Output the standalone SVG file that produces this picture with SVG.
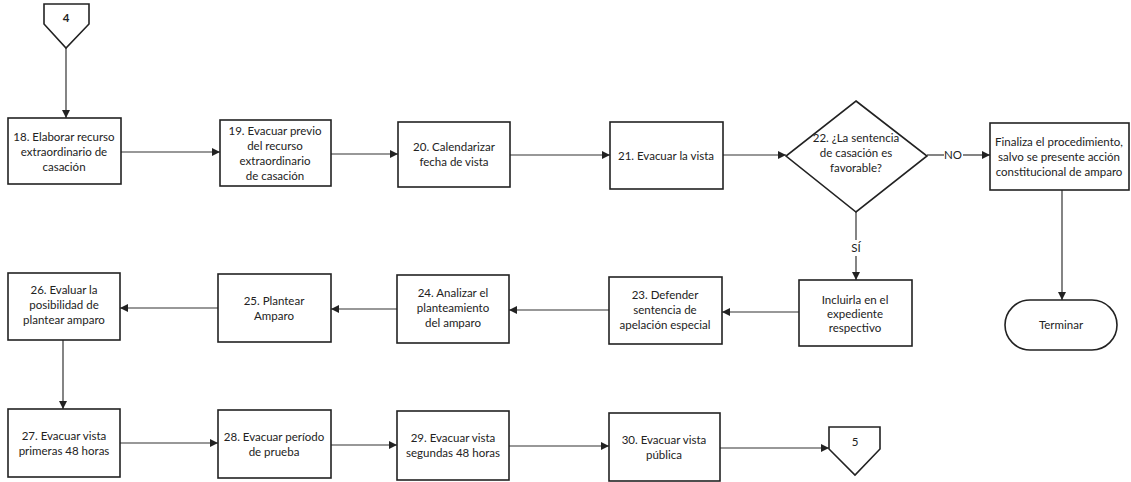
<svg xmlns="http://www.w3.org/2000/svg" width="1131" height="482" viewBox="0 0 1131 482">
  <style>
    .box { fill: #fff; stroke: #222; stroke-width: 1.6; }
    .edge { fill: none; stroke: #333; stroke-width: 1.2; }
    text { font-family: Lato, "Open Sans", "Liberation Sans", sans-serif; font-size: 11.5px; fill: #222; text-anchor: middle; }
  </style>
  <defs>
    <marker id="arrow" viewBox="0 0 10 10" refX="10" refY="5" markerWidth="8" markerHeight="8" markerUnits="userSpaceOnUse" orient="auto">
      <path d="M0,0 L10,5 L0,10 z" fill="#222"/>
    </marker>
  </defs>

  <!-- connectors -->
  <g id="connectors" class="edge" marker-end="url(#arrow)">
    <path d="M66,48 V118"/>
    <path d="M121,152 H220"/>
    <path d="M331,154 H398"/>
    <path d="M510,155 H610"/>
    <path d="M723,155 H786"/>
    <path d="M927,155 H944" marker-end="none"/>
    <path d="M963,155 H990"/>
    <path d="M1062,190 V300"/>
    <path d="M856,212 V240" marker-end="none"/>
    <path d="M856,256 V280"/>
    <path d="M799,312 H722"/>
    <path d="M609,310 H509"/>
    <path d="M397,309 H331"/>
    <path d="M218,308 H120"/>
    <path d="M63,340 V409"/>
    <path d="M120,443 H218"/>
    <path d="M331,445 H397"/>
    <path d="M509,446 H609"/>
    <path d="M720,448 H829"/>
  </g>

  <!-- edge labels -->
  <text x="953" y="159">NO</text>
  <text x="856" y="252">SÍ</text>

  <g id="off-page-4">
    <path class="box" d="M44,4 H89 V24 L66,48 L44,24 Z"/>
    <text x="66" y="22" font-weight="bold">4</text>
  </g>

  <g id="n18">
    <rect class="box" x="8" y="118" width="113" height="66"/>
    <text x="64" y="141">18. Elaborar recurso</text>
    <text x="64" y="156">extraordinario de</text>
    <text x="64" y="171">casación</text>
  </g>

  <g id="n19">
    <rect class="box" x="220" y="120" width="111" height="66"/>
    <text x="275" y="135">19. Evacuar previo</text>
    <text x="275" y="150">del recurso</text>
    <text x="275" y="165">extraordinario</text>
    <text x="275" y="180">de casación</text>
  </g>

  <g id="n20">
    <rect class="box" x="398" y="122" width="112" height="65"/>
    <text x="454" y="151">20. Calendarizar</text>
    <text x="454" y="166">fecha de vista</text>
  </g>

  <g id="n21">
    <rect class="box" x="610" y="122" width="113" height="67"/>
    <text x="666" y="160">21. Evacuar la vista</text>
  </g>

  <g id="n22">
    <path class="box" d="M856,101 L927,156 L856,212 L786,156 Z"/>
    <text x="856" y="142">22. ¿La sentencia</text>
    <text x="856" y="157">de casación es</text>
    <text x="856" y="172">favorable?</text>
  </g>

  <g id="n-finaliza">
    <rect class="box" x="990" y="123" width="139" height="67"/>
    <text x="1059" y="146">Finaliza el procedimiento,</text>
    <text x="1059" y="161">salvo se presente acción</text>
    <text x="1059" y="176">constitucional de amparo</text>
  </g>

  <g id="n-terminar">
    <rect class="box" x="1005" y="300" width="112" height="50" rx="25" ry="25"/>
    <text x="1061" y="329">Terminar</text>
  </g>

  <g id="n-incluirla">
    <rect class="box" x="799" y="280" width="113" height="66"/>
    <text x="855" y="304">Incluirla en el</text>
    <text x="855" y="318">expediente</text>
    <text x="855" y="332">respectivo</text>
  </g>

  <g id="n23">
    <rect class="box" x="609" y="277" width="113" height="67"/>
    <text x="665" y="299">23. Defender</text>
    <text x="665" y="314">sentencia de</text>
    <text x="665" y="329">apelación especial</text>
  </g>

  <g id="n24">
    <rect class="box" x="397" y="275" width="112" height="68"/>
    <text x="453" y="297">24. Analizar el</text>
    <text x="453" y="312">planteamiento</text>
    <text x="453" y="327">del amparo</text>
  </g>

  <g id="n25">
    <rect class="box" x="218" y="274" width="113" height="68"/>
    <text x="274" y="305">25. Plantear</text>
    <text x="274" y="320">Amparo</text>
  </g>

  <g id="n26">
    <rect class="box" x="8" y="273" width="112" height="67"/>
    <text x="64" y="294">26. Evaluar la</text>
    <text x="64" y="309">posibilidad de</text>
    <text x="64" y="324">plantear amparo</text>
  </g>

  <g id="n27">
    <rect class="box" x="8" y="409" width="112" height="68"/>
    <text x="64" y="440">27. Evacuar vista</text>
    <text x="64" y="455">primeras 48 horas</text>
  </g>

  <g id="n28">
    <rect class="box" x="218" y="410" width="113" height="68"/>
    <text x="274" y="441">28. Evacuar período</text>
    <text x="274" y="456">de prueba</text>
  </g>

  <g id="n29">
    <rect class="box" x="397" y="411" width="112" height="69"/>
    <text x="453" y="442">29. Evacuar vista</text>
    <text x="453" y="457">segundas 48 horas</text>
  </g>

  <g id="n30">
    <rect class="box" x="609" y="413" width="111" height="68"/>
    <text x="664" y="444">30. Evacuar vista</text>
    <text x="664" y="459">pública</text>
  </g>

  <g id="off-page-5">
    <path class="box" d="M829,427 H880 V449 L855,475 L829,449 Z"/>
    <text x="855" y="446">5</text>
  </g>
</svg>
